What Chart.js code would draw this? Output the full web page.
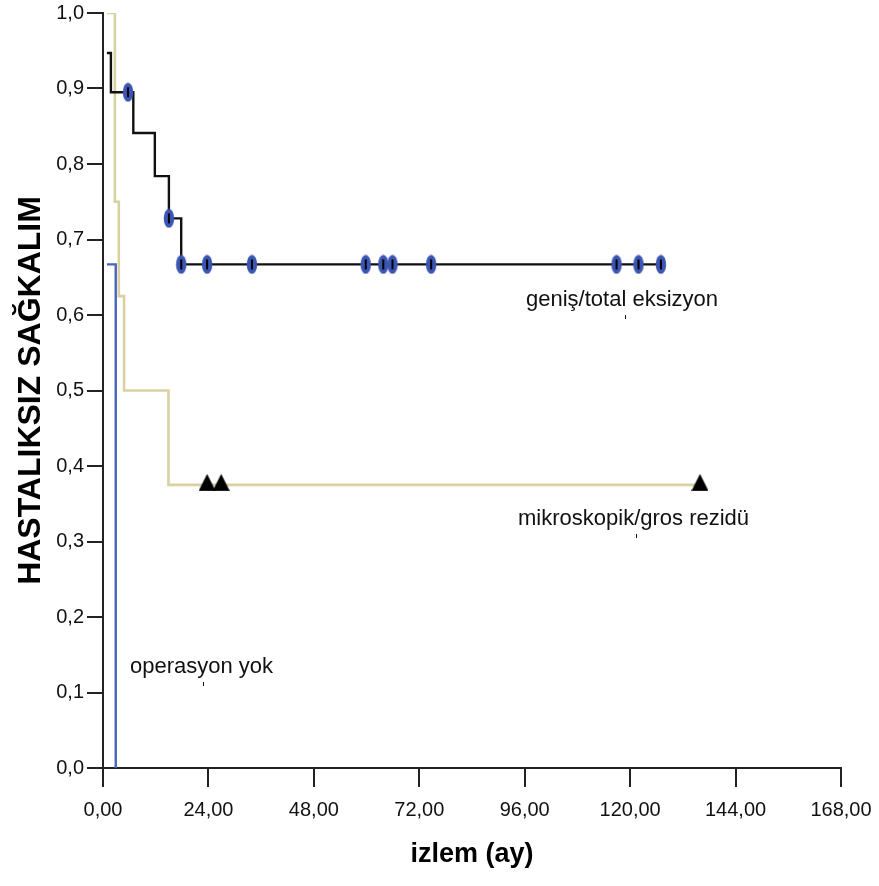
<!DOCTYPE html>
<html>
<head>
<meta charset="utf-8">
<script src="https://cdn.jsdelivr.net/npm/chart.js@4"></script>
<style>
  body { margin: 0; background: #fff; }
  canvas { display: block; }
</style>
</head>
<body>
<canvas id="kmChart" width="879" height="886"></canvas>
<script>
// geniş/total eksizyon - step points (time in months, survival)
const totalTimes = [0.9, 1.8, 6.9, 11.8, 15.0, 17.8, 127.0];
const totalSurv = [0.947, 0.895, 0.841, 0.784, 0.728, 0.667, 0.667];
const totalCensTimes = [5.7, 15.0, 17.8, 23.7, 33.9, 59.8, 63.8, 65.9, 74.7, 116.9, 121.9, 127.0];
const totalCensSurv = [0.895, 0.728, 0.667, 0.667, 0.667, 0.667, 0.667, 0.667, 0.667, 0.667, 0.667, 0.667];

// mikroskopik/gros rezidü
const residTimes = [0.9, 2.7, 3.6, 4.8, 14.9, 135.9];
const residSurv = [1.0, 0.75, 0.625, 0.5, 0.375, 0.375];
const residCensTimes = [23.7, 26.9, 135.9];
const residCensSurv = [0.375, 0.375, 0.375];

// operasyon yok
const noOpTimes = [0.9, 2.9];
const noOpSurv = [0.667, 0.0];

const xTickStep = 24;
const yTickStep = 0.1;

const FONT = "'Liberation Sans', Arial, Helvetica, sans-serif";

function toPoints(xs, ys) {
    return xs.map((x, i) => ({ x: x, y: ys[i] }));
}

// censor mark: blue ellipse with black tick
function makeEllipseMark() {
    const c = document.createElement('canvas');
    c.width = 12;
    c.height = 20;
    const g = c.getContext('2d');
    g.fillStyle = '#3b55b2';
    g.beginPath();
    g.ellipse(6, 10, 5.2, 9.6, 0, 0, Math.PI * 2);
    g.fill();
    g.fillStyle = '#000';
    g.fillRect(5, 5, 2, 10);
    return c;
}

// censor mark: black triangle, line passes ~11px below the apex
function makeTriangleMark() {
    const c = document.createElement('canvas');
    c.width = 17;
    c.height = 22;
    const g = c.getContext('2d');
    g.fillStyle = '#000';
    g.beginPath();
    g.moveTo(8.5, 0);
    g.lineTo(17, 17);
    g.lineTo(0, 17);
    g.closePath();
    g.fill();
    return c;
}

const labelPlugin = {
    id: 'curveLabels',
    afterDraw(chart) {
        const ctx = chart.ctx;
        ctx.save();
        ctx.fillStyle = '#111';
        ctx.font = '22px ' + FONT;
        ctx.textBaseline = 'alphabetic';
        ctx.textAlign = 'left';
        ctx.fillText('geniş/total eksizyon', 526, 306);
        ctx.fillText('mikroskopik/gros rezidü', 518, 525);
        ctx.fillText('operasyon yok', 130, 673);
        // small stray marks under the labels
        ctx.fillRect(625, 315, 1, 4);
        ctx.fillRect(636, 534, 1, 4);
        ctx.fillRect(203, 682, 1, 4);
        ctx.restore();
    }
};

function renderKmChart() {
    const ctx = document.getElementById('kmChart').getContext('2d');

    new Chart(ctx, {
        type: 'scatter',
        data: {
            datasets: [
                {
                    label: 'geniş/total eksizyon (sansürlü)',
                    data: toPoints(totalCensTimes, totalCensSurv),
                    pointStyle: makeEllipseMark(),
                    showLine: false,
                    order: 0
                },
                {
                    label: 'mikroskopik/gros rezidü (sansürlü)',
                    data: toPoints(residCensTimes, residCensSurv),
                    pointStyle: makeTriangleMark(),
                    showLine: false,
                    order: 0
                },
                {
                    label: 'geniş/total eksizyon',
                    data: toPoints(totalTimes, totalSurv),
                    showLine: true,
                    stepped: true,
                    borderColor: '#111',
                    borderWidth: 2.4,
                    pointRadius: 0,
                    order: 2
                },
                {
                    label: 'mikroskopik/gros rezidü',
                    data: toPoints(residTimes, residSurv),
                    showLine: true,
                    stepped: true,
                    borderColor: '#d8d2a0',
                    borderWidth: 2.6,
                    pointRadius: 0,
                    order: 3
                },
                {
                    label: 'operasyon yok',
                    data: toPoints(noOpTimes, noOpSurv),
                    showLine: true,
                    stepped: true,
                    borderColor: '#4a63bd',
                    borderWidth: 2.4,
                    pointRadius: 0,
                    order: 1
                }
            ]
        },
        options: {
            responsive: false,
            animation: false,
            layout: { padding: { top: 13, right: 38, left: 0, bottom: 0 } },
            plugins: {
                legend: { display: false },
                tooltip: { enabled: false }
            },
            scales: {
                x: {
                    type: 'linear',
                    min: 0,
                    max: 168,
                    afterFit: s => {
                        s.height = 118;
                        s.paddingLeft = 0;
                        s.paddingRight = 0;
                    },
                    border: { display: true, color: '#222', width: 2 },
                    grid: { drawOnChartArea: false, drawTicks: true, tickLength: 19, color: '#222', lineWidth: 2 },
                    ticks: {
                        stepSize: xTickStep,
                        autoSkip: false,
                        maxRotation: 0,
                        padding: 11,
                        color: '#111',
                        font: { family: FONT, size: 20 },
                        callback: v => v.toFixed(2).replace('.', ',')
                    },
                    title: {
                        display: true,
                        text: 'izlem (ay)',
                        color: '#000',
                        font: { family: FONT, size: 27, weight: 'bold' },
                        padding: { top: 0, bottom: 15 }
                    }
                },
                y: {
                    min: 0,
                    max: 1,
                    afterFit: s => {
                        s.width = 103;
                        s.paddingTop = 0;
                        s.paddingBottom = 0;
                    },
                    border: { display: true, color: '#222', width: 2 },
                    grid: { drawOnChartArea: false, drawTicks: true, tickLength: 16, color: '#222', lineWidth: 2 },
                    ticks: {
                        stepSize: yTickStep,
                        padding: 3,
                        color: '#111',
                        font: { family: FONT, size: 20 },
                        callback: v => v.toFixed(1).replace('.', ',')
                    },
                    title: {
                        display: true,
                        text: 'HASTALIKSIZ SAĞKALIM',
                        color: '#000',
                        font: { family: FONT, size: 32, weight: 'bold' },
                        padding: { top: 12, bottom: 0 }
                    }
                }
            }
        },
        plugins: [labelPlugin]
    });
}

renderKmChart();
</script>
</body>
</html>
